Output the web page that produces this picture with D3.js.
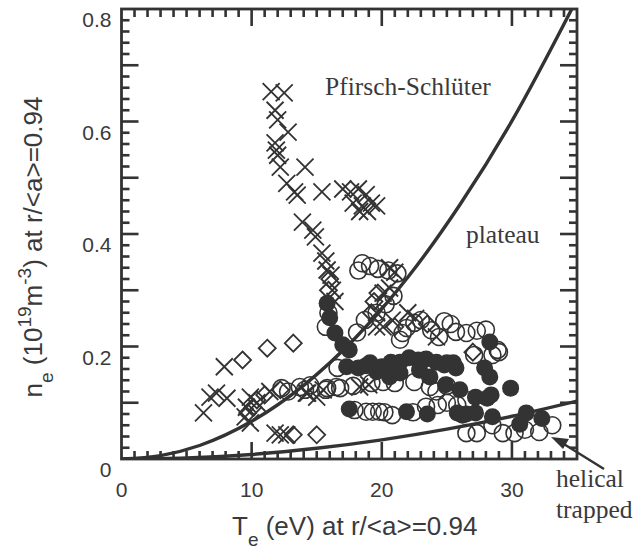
<!DOCTYPE html>
<html>
<head>
<meta charset="utf-8">
<script src="https://cdn.jsdelivr.net/npm/d3@7"></script>
</head>
<body style="margin:0">
<svg id="chart" width="642" height="551"></svg>
<script>
// tick labels
const xTickLabels = [0, 10, 20, 30];
const yTickLabels = [0, 0.2, 0.4, 0.6, 0.8];

// boundary curves, points [Te, ne]
const upperCurve = [[0,0],[3,0.006],[6,0.024],[10,0.067],[14,0.131],[18,0.216],[22,0.323],[26,0.452],[30,0.601],[34.6,0.80]];
const lowerCurve = [[0,0],[5,0.002],[10,0.008],[15,0.019],[20,0.034],[25,0.053],[30,0.076],[35,0.103]];

// crosses
const crosses = [
  [11.5,0.653],[12.5,0.651],[11.8,0.62],[12.0,0.603],[12.8,0.581],[11.8,0.562],[11.9,0.549],[12.0,0.54],
  [12.2,0.519],[14.1,0.519],[12.7,0.49],[13.3,0.475],[13.5,0.469],[15.4,0.475],[13.9,0.421],[14.7,0.407],
  [14.9,0.395],[15.4,0.366],[15.7,0.352],[15.8,0.336],[16.1,0.327],[16.2,0.30],[16.4,0.28],
  [17.0,0.48],[17.6,0.475],[18.2,0.48],[18.8,0.47],[17.8,0.455],[18.5,0.45],[19.2,0.455],[18.9,0.44],[19.6,0.45],[18.3,0.44],
  [7.9,0.164],[7.3,0.117],[6.8,0.11],[8.1,0.108],[6.3,0.082],[9.9,0.11],[9.6,0.092],[9.5,0.075],[9.9,0.064],
  [11.8,0.046],[12.2,0.043],[12.7,0.043],[14.3,0.117],[15.0,0.11],[15.5,0.123],[10.4,0.1],[11.4,0.12],
  [20.1,0.235],[20.8,0.247],[19.6,0.26],[20.1,0.295],[20.6,0.304],[19.6,0.235],[20.6,0.34],[21.0,0.332],
  [14.2,0.117],[18.3,0.128],[19.0,0.132],[24.2,0.217],[22.0,0.26],[22.6,0.25]
];

// open diamonds
const diamonds = [
  [9.3,0.176],[11.2,0.197],[13.2,0.206],[13.2,0.043],[15.0,0.043],[9.7,0.082],[10.1,0.092],[10.4,0.105],
  [11.0,0.114],[12.2,0.123],[16.0,0.32],[19.2,0.26],[19.4,0.28],[19.7,0.295],[27.0,0.19],[15.9,0.30],
  [21.0,0.235],[23.5,0.24]
];

// open circles
const openCircles = [
  [12.3,0.126],[12.8,0.12],[13.7,0.128],[14.1,0.123],[15.8,0.126],[16.5,0.128],[16.6,0.162],[15.7,0.235],[15.9,0.26],
  [18.5,0.348],[19.1,0.343],[19.7,0.338],[20.5,0.335],[21.2,0.33],[18.2,0.335],
  [18.7,0.247],[19.6,0.26],[20.3,0.275],[20.9,0.29],[18.1,0.225],
  [21.4,0.212],[21.6,0.224],[21.9,0.233],[22.5,0.242],[23.0,0.247],[23.8,0.229],[24.4,0.217],[25.7,0.226],
  [26.5,0.224],[27.3,0.228],[28.0,0.23],[28.9,0.194],[27.1,0.185],[28.5,0.185],[29.0,0.19],[24.8,0.245],[25.3,0.24],
  [14.5,0.131],[15.7,0.123],[16.8,0.126],[17.8,0.13],[19.2,0.135],[20.1,0.137],[21.0,0.135],[22.5,0.137],
  [23.7,0.128],[23.4,0.167],[24.2,0.12],[25.0,0.13],
  [18.8,0.084],[19.3,0.084],[19.8,0.084],[20.2,0.083],[20.8,0.078],[22.4,0.083],[23.4,0.093],[24.3,0.096],
  [25.0,0.1],[25.8,0.096],[26.5,0.105],[17.9,0.087],
  [26.5,0.046],[27.3,0.046],[29.3,0.046],[30.2,0.046],[31.0,0.052],[32.1,0.048],[33.1,0.06],[28.5,0.06]
];

// filled circles
const filledCircles = [
  [15.8,0.277],[16.0,0.251],[16.4,0.224],[17.0,0.203],[17.5,0.194],
  [17.3,0.164],[18.2,0.162],[19.1,0.171],[20.0,0.164],[20.7,0.172],[21.4,0.172],[22.1,0.18],[22.8,0.176],
  [23.4,0.178],[24.2,0.172],[25.0,0.171],[25.5,0.171],[20.6,0.146],[21.4,0.153],[22.9,0.158],[23.7,0.146],
  [24.8,0.167],[25.7,0.162],[24.9,0.132],[26.0,0.123],[27.9,0.162],[28.3,0.146],[28.3,0.208],[29.9,0.126],
  [18.8,0.166],[19.6,0.155],
  [27.2,0.11],[28.1,0.108],[28.4,0.114],[25.8,0.082],[26.5,0.08],[27.2,0.082],[28.5,0.075],[31.1,0.082],
  [30.6,0.062],[32.3,0.072],[21.9,0.084],[23.5,0.08],[17.5,0.089],[26.2,0.078]
];

const ink = '#333333';
const textInk = '#3a3a3a';
const svg = d3.select('#chart');

let x = d3.scaleLinear().domain([0, 35]).range([121.5, 577]);
let y = d3.scaleLinear().domain([0, 0.8]).range([459, 9]);

// tick labels
const sans = 'Liberation Sans, Arial, sans-serif';
svg.append('g').selectAll('text')
  .data(xTickLabels).enter().append('text')
  .attr('x', d => x(d))
  .attr('y', y(0) + 38)
  .attr('text-anchor', 'middle')
  .attr('font-family', sans)
  .attr('font-size', 21)
  .attr('fill', textInk)
  .text(d => d);

svg.append('g').selectAll('text')
  .data(yTickLabels).enter().append('text')
  .attr('x', x(0) - 10)
  .attr('y', d => y(d) + 18)
  .attr('text-anchor', 'end')
  .attr('font-family', sans)
  .attr('font-size', 21)
  .attr('fill', textInk)
  .text(d => d === 0 ? '0' : d.toFixed(1));

// axis titles
let xt = svg.append('text')
  .attr('x', 232).attr('y', 535)
  .attr('font-family', sans)
  .attr('font-size', 26)
  .attr('fill', textInk);
xt.append('tspan').text('T');
xt.append('tspan').attr('dy', 11).attr('font-size', 19).text('e');
xt.append('tspan').attr('dy', -11).text(' (eV) at r/<a>=0.94');

let yt = svg.append('text')
  .attr('transform', 'translate(42,247) rotate(-90)')
  .attr('text-anchor', 'middle')
  .attr('font-family', sans)
  .attr('font-size', 26)
  .attr('fill', textInk);
yt.append('tspan').text('n');
yt.append('tspan').attr('dy', 11).attr('font-size', 19).text('e');
yt.append('tspan').attr('dy', -11).text(' (10');
yt.append('tspan').attr('dy', -11).attr('font-size', 19).text('19');
yt.append('tspan').attr('dy', 11).text('m');
yt.append('tspan').attr('dy', -11).attr('font-size', 19).text('-3');
yt.append('tspan').attr('dy', 11).text(') at r/<a>=0.94');

// curves and marks, clipped to the frame
svg.append('clipPath').attr('id', 'plotClip')
  .append('rect')
  .attr('x', x(0)).attr('y', y(0.8))
  .attr('width', x(35) - x(0)).attr('height', y(0) - y(0.8));
let plot = svg.append('g').attr('clip-path', 'url(#plotClip)');

let curveLine = d3.line()
  .x(d => x(d[0]))
  .y(d => y(d[1]))
  .curve(d3.curveMonotoneX);

[upperCurve, lowerCurve].forEach(function(c){
  plot.append('path')
    .datum(c)
    .attr('d', curveLine)
    .attr('fill', 'none')
    .attr('stroke', ink)
    .attr('stroke-width', 3.4);
});

plot.selectAll('.cross')
  .data(crosses).enter().append('path')
  .attr('class', 'cross')
  .attr('transform', d => 'translate(' + x(d[0]) + ',' + y(d[1]) + ')')
  .attr('d', 'M-8.5,-8.5L8.5,8.5M-8.5,8.5L8.5,-8.5')
  .attr('stroke', ink).attr('stroke-width', 1.8).attr('fill', 'none');

plot.selectAll('.diamond')
  .data(diamonds).enter().append('path')
  .attr('class', 'diamond')
  .attr('transform', d => 'translate(' + x(d[0]) + ',' + y(d[1]) + ')')
  .attr('d', 'M0,-8.5L8.5,0L0,8.5L-8.5,0Z')
  .attr('stroke', ink).attr('stroke-width', 1.8).attr('fill', 'none');

plot.selectAll('.ocirc')
  .data(openCircles).enter().append('circle')
  .attr('class', 'ocirc')
  .attr('cx', d => x(d[0])).attr('cy', d => y(d[1]))
  .attr('r', 8.5)
  .attr('stroke', ink).attr('stroke-width', 1.6).attr('fill', 'none');

plot.selectAll('.fcirc')
  .data(filledCircles).enter().append('circle')
  .attr('class', 'fcirc')
  .attr('cx', d => x(d[0])).attr('cy', d => y(d[1]))
  .attr('r', 8.5)
  .attr('fill', ink);

// region labels
const serif = 'Liberation Serif, Times New Roman, serif';
[['Pfirsch-Schlüter', 325, 95], ['plateau', 466, 243], ['helical', 556, 487], ['trapped', 556, 518]]
  .forEach(function(t){
    svg.append('text').attr('x', t[1]).attr('y', t[2])
      .attr('font-family', serif).attr('font-size', 25.5)
      .attr('fill', textInk).text(t[0]);
  });

// arrow to helical trapped region
svg.append('path')
  .attr('d', 'M604,469L559,441')
  .attr('fill', 'none')
  .attr('stroke', ink).attr('stroke-width', 2.4);
svg.append('path')
  .attr('d', 'M551,437L569,439L563,449Z')
  .attr('fill', ink);

// frame
svg.append('rect')
  .attr('x', x(0)).attr('y', y(0.8))
  .attr('width', x(35) - x(0)).attr('height', y(0) - y(0.8))
  .attr('fill', 'none').attr('stroke', ink).attr('stroke-width', 2.8);

// inward ticks on all four sides as small filled rects, drawn last
const xMinor = d3.range(1, 35, 1).filter(d => d % 10 !== 0);
const xMajor = [10, 20, 30];
const yMinor = d3.range(1, 40, 1).filter(d => d % 5 !== 0).map(d => d * 0.02);
const yMajor = [0.1, 0.2, 0.3, 0.4, 0.5, 0.6, 0.7];
const tw = 2.6;

function xTickRects(values, len){
  let g = svg.append('g').attr('fill', ink);
  g.selectAll('.b').data(values).enter().append('rect')
    .attr('x', d => x(d) - tw / 2).attr('y', y(0) - len)
    .attr('width', tw).attr('height', len);
  g.selectAll('.t').data(values).enter().append('rect')
    .attr('x', d => x(d) - tw / 2).attr('y', y(0.8))
    .attr('width', tw).attr('height', len);
}
function yTickRects(values, len){
  let g = svg.append('g').attr('fill', ink);
  g.selectAll('.l').data(values).enter().append('rect')
    .attr('x', x(0)).attr('y', d => y(d) - tw / 2)
    .attr('width', len).attr('height', tw);
  g.selectAll('.r').data(values).enter().append('rect')
    .attr('x', x(35) - len).attr('y', d => y(d) - tw / 2)
    .attr('width', len).attr('height', tw);
}
xTickRects(xMinor, 8);
xTickRects(xMajor, 17);
yTickRects(yMinor, 8);
yTickRects(yMajor, 17);
</script>
</body>
</html>
